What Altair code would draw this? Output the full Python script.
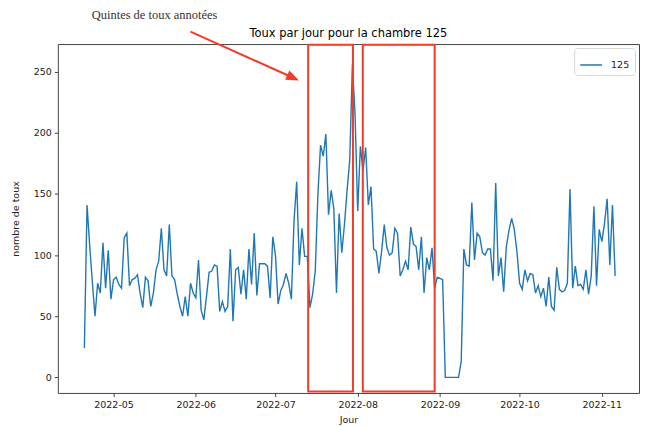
import altair as alt
import pandas as pd

# ---- data ----
start_date = "2022-04-20"
series_name = "125"
cough_counts = [
    24, 141, 108, 78, 50, 77, 69, 110, 73, 104,
    64, 80, 82, 76, 73, 114, 118, 75, 80, 81,
    84, 69, 57, 82, 79, 58, 69, 88, 95, 122,
    88, 83, 125, 83, 80, 68, 58, 50, 66, 50,
    77, 69, 65, 96, 55, 47, 66, 86, 87, 92,
    91, 54, 62, 54, 58, 105, 46, 88, 90, 68,
    88, 64, 105, 76, 118, 67, 93, 93, 93, 91,
    65, 115, 100, 60, 71, 76, 85, 77, 64, 128,
    160, 92, 122, 99, 99, 57, 68, 87, 150, 190,
    181, 199, 133, 153, 138, 69, 134, 102, 125, 153,
    178,
    256, 215, 136, 189, 169, 188, 141, 156, 105, 103,
    85, 103, 125, 106, 100, 102, 122, 118, 83, 88,
    95, 88, 123, 109, 107, 88, 115, 69, 98, 88, 106, 73,
    82, 81, 80,
    0, 0, 0, 0, 0, 0,
    13,
    105, 92, 91, 143, 96, 118, 115, 102, 100, 105, 105, 79, 159, 83, 98, 70,
    107, 120, 130, 121, 103, 77, 72, 88, 79, 85,
    84, 69, 75, 66, 73, 58, 82, 58, 55, 90, 72, 70, 71, 77, 154,
    73, 91, 75, 76, 72, 88, 68, 83, 140, 75, 121, 111, 126, 146, 92, 141, 83,
]

y_ticks = [0, 50, 100, 150, 200, 250]
month_ticks = [5, 6, 7, 8, 9, 10, 11]

# annotated coughing-fit periods
box_starts = ["2022-07-13T08:00:00Z", "2022-08-02T22:00:00Z"]
box_ends = ["2022-07-30T05:00:00Z", "2022-08-30T00:00:00Z"]
box_low = [-11.6, -11.6]
box_high = [272.0, 272.0]

annotation_text = "Quintes de toux annotées"
chart_title = "Toux par jour pour la chambre 125"

# ---- tables ----
dates = pd.date_range(start_date, periods=len(cough_counts), freq="D").strftime("%Y-%m-%d")
df = pd.DataFrame({"jour": list(dates), "toux": cough_counts, "chambre": series_name})
boxes_df = pd.DataFrame({"debut": box_starts, "fin": box_ends, "bas": box_low, "haut": box_high})
one = pd.DataFrame({"k": [0]})

RED = "#f03c28"
BLUE = "#1f77b4"

x_scale = alt.Scale(
    type="utc",
    domain=[alt.DateTime(year=2022, month=4, date=10, utc=True),
            alt.DateTime(year=2022, month=11, date=15, utc=True)],
)
y_scale = alt.Scale(domain=[-12.7, 272.6], nice=False, zero=False)

x_axis = alt.Axis(
    title="Jour",
    values=[alt.DateTime(year=2022, month=m, date=1, utc=True) for m in month_ticks],
    labelExpr="utcFormat(datum.value, '%Y-%m')",
    labelPadding=3,
    titlePadding=6,
)
y_axis = alt.Axis(title="nombre de toux", values=y_ticks, labelPadding=3, titlePadding=13)

line = alt.Chart(df).mark_line(strokeWidth=1.4).encode(
    x=alt.X("jour:T", scale=x_scale, axis=x_axis),
    y=alt.Y("toux:Q", scale=y_scale, axis=y_axis),
    color=alt.Color(
        "chambre:N",
        scale=alt.Scale(domain=[series_name], range=[BLUE]),
        legend=alt.Legend(
            title=None,
            orient="top-right",
            offset=4,
            padding=5,
            fillColor="white",
            strokeColor="#d6d6d6",
            cornerRadius=3,
            symbolType="stroke",
            symbolSize=480,
            symbolStrokeWidth=1.5,
            labelFont="DejaVu Sans",
            labelFontSize=9.5,
            labelColor="#222",
            labelOffset=8,
        ),
    ),
)

boxes = alt.Chart(boxes_df).mark_rect(
    fillOpacity=0, stroke=RED, strokeWidth=2
).encode(
    x=alt.X("debut:T", scale=x_scale),
    x2="fin:T",
    y=alt.Y("bas:Q", scale=y_scale),
    y2="haut:Q",
)

arrow_line = alt.Chart(one).mark_rule(color=RED, strokeWidth=2).encode(
    x=alt.value(133), y=alt.value(-12.5), x2=alt.value(236), y2=alt.value(33.8)
)
arrow_head = alt.Chart(one).mark_point(
    shape="M 0 0 L -2 -0.8 L -2 0.8 Z", filled=True, color=RED, opacity=1,
    size=169, angle=24.2, strokeWidth=0
).encode(x=alt.value(242), y=alt.value(36.5))

note = alt.Chart(one).mark_text(
    text=annotation_text, font="Liberation Serif", fontSize=12.5, color="#333"
).encode(x=alt.value(97), y=alt.value(-29.5))

title_text = alt.Chart(one).mark_text(
    text=chart_title, font="DejaVu Sans", fontSize=11.5, color="black"
).encode(x=alt.value(291.5), y=alt.value(-10.5))

chart = alt.layer(line, boxes, arrow_line, arrow_head, note, title_text).properties(
    width=583,
    height=350,
    autosize=alt.AutoSizeParams(type="none"),
    padding={"left": 50, "top": 35.5, "right": 2, "bottom": 34},
).configure_view(
    stroke="#444", strokeWidth=1
).configure_axis(
    domain=False, grid=False, tickColor="#444", tickSize=3.5, tickWidth=1,
    labelFont="DejaVu Sans", labelFontSize=9.5, labelColor="#222",
    titleFont="DejaVu Sans", titleFontSize=9.5, titleFontWeight="normal", titleColor="#222",
)

chart.save("out.html", embed_options={"renderer": "svg", "actions": False})
